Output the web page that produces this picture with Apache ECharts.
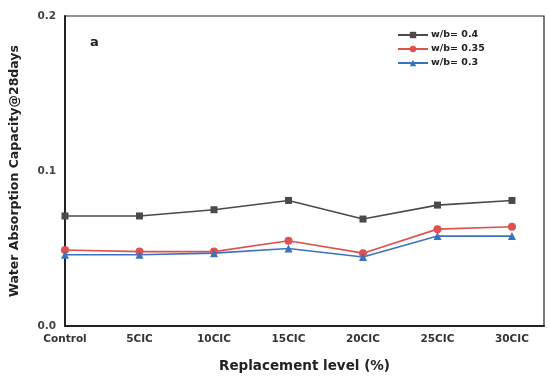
<!DOCTYPE html>
<html><head><meta charset="utf-8">
<script src="https://cdn.jsdelivr.net/npm/echarts@6/dist/echarts.min.js"></script>
<style>html,body{margin:0;padding:0;background:#fff}#c{width:550px;height:378px}</style>
</head><body><div id="c"></div>
<script>
var categories = ['Control','5CIC','10CIC','15CIC','20CIC','25CIC','30CIC'];
var seriesNames = ['w/b= 0.4','w/b= 0.35','w/b= 0.3'];
var wb04 = [0.071,0.071,0.075,0.081,0.069,0.078,0.081];
var wb035 = [0.049,0.048,0.048,0.055,0.047,0.0625,0.064];
var wb03 = [0.046,0.046,0.047,0.050,0.0445,0.058,0.058];
var yTicks = [0.0,0.1,0.2];

function pts(arr){return arr.map(function(v,i){return [i,v];});}
var chart = echarts.init(document.getElementById('c'),null,{renderer:'canvas'});
var bold = {fontFamily:'DejaVu Sans, sans-serif',fontWeight:'bold'};
chart.setOption({
  animation:false,
  backgroundColor:'#fff',
  grid:{left:62,right:6,top:16,bottom:48,show:true,borderColor:'#222',borderWidth:1.2},
  legend:{orient:'vertical',left:392,top:25,itemGap:4,itemWidth:30,itemHeight:8,
    textStyle:Object.assign({fontSize:9.5,color:'#222',padding:[0,0,0,-2]},bold),
    data:seriesNames},
  graphic:[{type:'text',left:90,top:36,style:Object.assign({text:'a',fontSize:13,fill:'#222'},bold)}],
  xAxis:{type:'value',min:0,max:6.43,interval:1,
    name:'Replacement level (%)',nameLocation:'middle',nameGap:33,
    nameTextStyle:Object.assign({fontSize:13.5,color:'#222'},bold),
    axisLine:{lineStyle:{color:'#222',width:2}},axisTick:{show:false},splitLine:{show:false},
    axisLabel:Object.assign({fontSize:10.5,color:'#333',margin:8,showMaxLabel:false,
      formatter:function(v){return Number.isInteger(v)&&categories[v]!==undefined?categories[v]:'';}},bold)},
  yAxis:{type:'value',min:yTicks[0],max:yTicks[yTicks.length-1],interval:0.1,
    name:'Water Absorption Capacity@28days',nameLocation:'middle',nameGap:44,
    nameTextStyle:Object.assign({fontSize:12.5,color:'#222'},bold),
    axisLine:{show:true,lineStyle:{color:'#222',width:2}},axisTick:{show:false},splitLine:{show:false},
    axisLabel:Object.assign({fontSize:10.5,color:'#444',margin:9,formatter:function(v){return v.toFixed(1);}},bold)},
  series:[
    {name:seriesNames[0],type:'line',data:pts(wb04),symbol:'rect',symbolSize:7,
      itemStyle:{color:'#4a4a4a'},lineStyle:{color:'#4a4a4a',width:1.6}},
    {name:seriesNames[1],type:'line',data:pts(wb035),symbol:'circle',symbolSize:8,
      itemStyle:{color:'#e0504f'},lineStyle:{color:'#e0504f',width:1.6}},
    {name:seriesNames[2],type:'line',data:pts(wb03),symbol:'triangle',symbolSize:8,
      itemStyle:{color:'#3a72c2'},lineStyle:{color:'#3a72c2',width:1.6}}
  ]
});
</script></body></html>
